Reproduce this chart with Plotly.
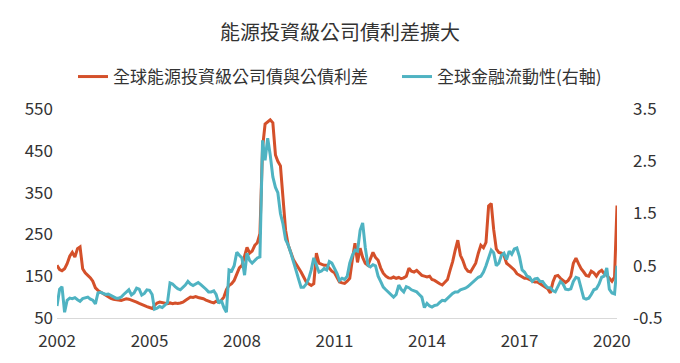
import pandas as pd
import plotly.graph_objects as go

title_text = "能源投資級公司債利差擴大"
name_red = "全球能源投資級公司債與公債利差"
name_blue = "全球金融流動性(右軸)"

# monthly values, Jan 2002 - Mar 2020
red_2002 = [176, 166, 163, 168, 180, 198, 207, 196, 216, 220, 168, 158]
red_2003 = [152, 146, 138, 122, 116, 112, 108, 104, 100, 97, 95, 94]
red_2004 = [93, 92, 94, 96, 95, 93, 90, 88, 85, 82, 80, 77]
red_2005 = [75, 73, 80, 86, 88, 87, 85, 84, 86, 84, 86, 85]
red_2006 = [86, 88, 92, 96, 100, 99, 101, 99, 98, 96, 93, 90]
red_2007 = [88, 86, 90, 88, 92, 100, 118, 128, 132, 140, 158, 170]
red_2008 = [176, 200, 219, 205, 210, 224, 230, 252, 457, 514, 520, 524]
red_2009 = [517, 440, 425, 414, 338, 260, 225, 205, 190, 180, 171, 160]
red_2010 = [148, 136, 132, 128, 132, 205, 181, 178, 176, 176, 168, 162]
red_2011 = [158, 145, 136, 134, 133, 138, 145, 190, 229, 183, 217, 195]
red_2012 = [181, 176, 190, 207, 195, 188, 170, 157, 150, 146, 145, 148]
red_2013 = [145, 147, 144, 146, 150, 169, 162, 160, 164, 158, 152, 150]
red_2014 = [148, 150, 142, 140, 135, 132, 129, 135, 142, 164, 185, 212]
red_2015 = [236, 200, 188, 170, 162, 160, 170, 181, 205, 224, 218, 231]
red_2016 = [318, 324, 262, 215, 207, 205, 200, 181, 176, 171, 165, 156]
red_2017 = [152, 148, 145, 145, 142, 140, 136, 136, 132, 129, 125, 120]
red_2018 = [110, 136, 150, 152, 145, 140, 135, 140, 150, 181, 193, 180]
red_2019 = [168, 160, 152, 150, 162, 158, 150, 160, 164, 156, 152, 145]
red_2020 = [138, 148, 319]

blue_2002 = [-0.27, 0.05, 0.10, -0.39, -0.16, -0.12, -0.13, -0.11, -0.15, -0.18, -0.13, -0.12]
blue_2003 = [-0.10, -0.14, -0.16, -0.23, -0.02, -0.01, -0.03, -0.05, -0.04, -0.07, -0.10, -0.12]
blue_2004 = [-0.12, -0.10, -0.05, 0.00, 0.04, -0.06, -0.02, 0.07, 0.05, -0.06, -0.03, 0.04]
blue_2005 = [0.03, -0.05, -0.33, -0.31, -0.28, -0.30, -0.25, -0.21, 0.17, 0.15, 0.10, 0.06]
blue_2006 = [0.04, 0.08, 0.13, 0.20, 0.15, 0.12, 0.15, 0.18, 0.14, 0.10, 0.05, 0.00]
blue_2007 = [0.00, 0.02, -0.05, -0.22, -0.16, -0.30, -0.39, 0.42, 0.40, 0.50, 0.76, 0.70]
blue_2008 = [0.65, 0.32, 0.74, 0.60, 0.55, 0.60, 0.65, 0.67, 2.90, 2.52, 2.94, 2.62]
blue_2009 = [2.20, 2.00, 1.90, 1.50, 1.30, 1.00, 0.90, 0.75, 0.60, 0.42, 0.25, 0.09]
blue_2010 = [0.09, 0.15, 0.25, 0.42, 0.65, 0.50, 0.38, 0.40, 0.45, 0.42, 0.58, 0.55]
blue_2011 = [0.45, 0.35, 0.22, 0.26, 0.24, 0.30, 0.55, 0.70, 0.80, 0.78, 1.18, 1.32]
blue_2012 = [0.85, 0.51, 0.48, 0.52, 0.50, 0.30, 0.20, 0.09, 0.04, 0.00, -0.05, -0.10]
blue_2013 = [-0.05, 0.13, 0.05, 0.00, 0.10, 0.08, 0.04, 0.02, 0.00, -0.05, -0.10, -0.30]
blue_2014 = [-0.22, -0.27, -0.29, -0.26, -0.25, -0.20, -0.16, -0.17, -0.12, -0.06, -0.03, 0.00]
blue_2015 = [0.00, 0.04, 0.05, 0.07, 0.10, 0.15, 0.20, 0.23, 0.28, 0.30, 0.38, 0.50]
blue_2016 = [0.65, 0.80, 0.75, 0.50, 0.55, 0.70, 0.74, 0.62, 0.78, 0.72, 0.82, 0.84]
blue_2017 = [0.67, 0.42, 0.38, 0.30, 0.28, 0.20, 0.25, 0.26, 0.20, 0.20, 0.13, 0.08]
blue_2018 = [0.08, 0.02, 0.00, 0.12, 0.20, 0.15, 0.05, 0.04, 0.06, 0.20, 0.28, 0.26]
blue_2019 = [0.05, -0.12, -0.14, -0.12, -0.05, 0.04, 0.06, 0.15, 0.28, 0.30, 0.46, 0.05]
blue_2020 = [-0.02, -0.04, 0.50]

x_tick_years = ["2002", "2005", "2008", "2011", "2014", "2017", "2020"]
left_ticks = [50, 150, 250, 350, 450, 550]
right_ticks = [-0.5, 0.5, 1.5, 2.5, 3.5]

red = (red_2002 + red_2003 + red_2004 + red_2005 + red_2006 + red_2007 + red_2008
       + red_2009 + red_2010 + red_2011 + red_2012 + red_2013 + red_2014 + red_2015
       + red_2016 + red_2017 + red_2018 + red_2019 + red_2020)
blue = (blue_2002 + blue_2003 + blue_2004 + blue_2005 + blue_2006 + blue_2007 + blue_2008
        + blue_2009 + blue_2010 + blue_2011 + blue_2012 + blue_2013 + blue_2014 + blue_2015
        + blue_2016 + blue_2017 + blue_2018 + blue_2019 + blue_2020)
dates = pd.date_range("2002-01-01", periods=len(red), freq="MS")

FONT = "Noto Sans CJK TC"
TXT = "#333333"
# the page body adds an 8px margin, so the figure is laid out 8px up/left
OFF = 8
FIG_W, FIG_H = 680 - OFF, 363 - OFF
PLOT_L, PLOT_R, PLOT_T, PLOT_B = 57 - OFF, 617 - OFF, 109 - OFF, 318 - OFF
PW, PH = PLOT_R - PLOT_L, PLOT_B - PLOT_T

fig = go.Figure()
fig.add_trace(go.Scatter(x=dates, y=red, name=name_red, mode="lines",
                         line=dict(color="#D4502A", width=3), yaxis="y",
                         legend="legend"))
fig.add_trace(go.Scatter(x=dates, y=blue, name=name_blue, mode="lines",
                         line=dict(color="#4FB3C2", width=3), yaxis="y2",
                         legend="legend2"))

legend_common = dict(orientation="h", xanchor="left", yanchor="middle",
                     y=(PLOT_B - (77 - OFF)) / PH,
                     font=dict(size=17, color=TXT, family=FONT),
                     bgcolor="rgba(0,0,0,0)", borderwidth=0)

fig.update_layout(
    width=FIG_W, height=FIG_H, autosize=False,
    paper_bgcolor="white", plot_bgcolor="white",
    margin=dict(l=PLOT_L, r=FIG_W - PLOT_R, t=PLOT_T, b=FIG_H - PLOT_B, autoexpand=False),
    font=dict(family=FONT, color=TXT, size=16),
    title=dict(text=title_text, x=(340 - OFF) / FIG_W, xanchor="center", xref="container",
               y=1 - (33 - OFF) / FIG_H, yanchor="middle", yref="container",
               font=dict(size=20, color=TXT, family=FONT)),
    showlegend=True,
    legend=dict(x=(73 - OFF - PLOT_L) / PW, **legend_common),
    legend2=dict(x=(397 - OFF - PLOT_L) / PW, **legend_common),
    xaxis=dict(type="date", range=["2002-01-01", "2020-03-01"],
               tickvals=[y + "-01-01" for y in x_tick_years], ticktext=x_tick_years,
               showgrid=False, zeroline=False, showline=True,
               linecolor="#d9d9d9", linewidth=1, ticks="",
               tickfont=dict(size=17, color=TXT), ticklabelstandoff=8),
    yaxis=dict(range=[50, 550], tickvals=left_ticks,
               ticktext=[str(v) for v in left_ticks],
               showgrid=False, zeroline=False, showline=False, ticks="",
               tickfont=dict(size=17, color=TXT), ticklabelstandoff=3),
    yaxis2=dict(range=[-0.5, 3.5], tickvals=right_ticks,
                ticktext=[f"{v:.1f}" for v in right_ticks],
                overlaying="y", side="right",
                showgrid=False, zeroline=False, showline=False, ticks="",
                tickfont=dict(size=17, color=TXT), ticklabelstandoff=15),
)

fig.write_html("out.html")
